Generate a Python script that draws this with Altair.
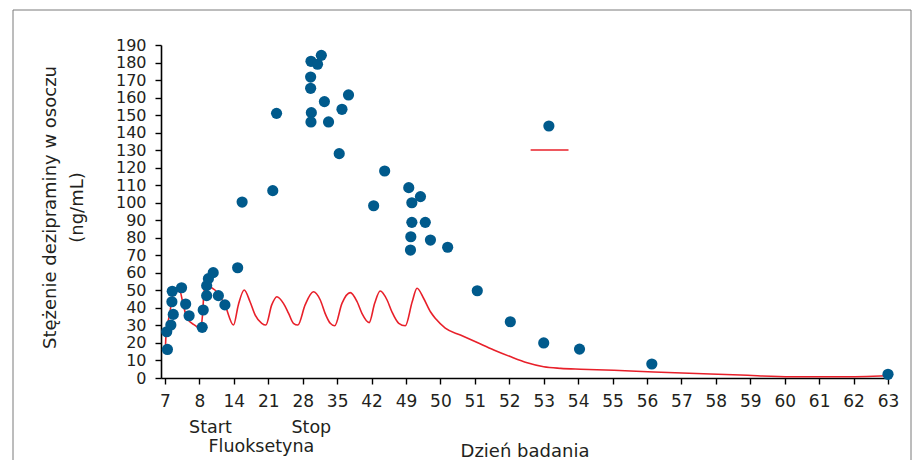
import altair as alt
import pandas as pd

# x axis: equally spaced tick slots (index) with irregular day labels
tick_labels = ["7", "8", "14", "21", "28", "35", "42", "49", "50", "51", "52", "53",
               "54", "55", "56", "57", "58", "59", "60", "61", "62", "63"]
y_ticks = list(range(0, 200, 10))

# measured desipramine concentrations (x in tick-slot units)
pt_pos = [0.07, 0.05, 0.17, 0.24, 0.20, 0.21, 0.48, 0.60, 0.70, 1.08, 1.11, 1.21, 1.21,
          1.26, 1.40, 1.55, 1.74, 2.11, 2.24, 3.24, 3.13, 4.24, 4.54, 4.43, 4.23, 4.23,
          4.63, 5.33, 5.14, 4.25, 4.24, 4.75, 5.06, 6.38, 6.06, 7.08, 7.42, 7.17, 7.17,
          7.56, 7.14, 7.71, 7.13, 8.21, 9.07, 10.03, 11.0, 12.04, 14.14, 21.0, 11.15]
pt_val = [16.3, 26.4, 30.2, 36.3, 43.5, 49.5, 51.5, 42.2, 35.5, 28.9, 38.8, 47.0, 52.7,
          56.7, 60.1, 47.0, 41.7, 62.9, 100.4, 151.0, 106.9, 180.7, 184.1, 179.0, 171.7, 165.3,
          157.7, 161.5, 153.3, 151.4, 146.1, 146.1, 128.0, 118.1, 98.3, 108.6, 103.5, 100.0, 88.8,
          88.8, 80.6, 78.7, 73.0, 74.6, 49.8, 32.1, 20.0, 16.5, 8.0, 2.1, 143.8]

# model curve (red)
line_pos = [0.01, 0.03, 0.14, 0.22, 0.32, 0.44, 0.52, 0.64, 0.86, 1.03, 1.09, 1.14, 1.25,
            1.45, 1.74, 1.99, 2.13, 2.30, 2.47, 2.62, 2.81, 2.93, 3.10, 3.25, 3.44, 3.59,
            3.73, 3.86, 4.07, 4.31, 4.51, 4.65, 4.80, 4.93, 5.14, 5.38, 5.58, 5.72, 5.93,
            6.09, 6.25, 6.45, 6.59, 6.79, 6.98, 7.18, 7.32, 7.51, 7.71, 7.87, 8.14, 8.58,
            9.07, 9.55, 10.03, 10.52, 11.0, 11.49, 12.07, 13.04, 14.2, 16.72, 18.18, 19.63, 21.0]
line_val = [16.5, 24.5, 36.9, 46.8, 49.6, 49.1, 42.6, 34.2, 30.2, 28.4, 35.9, 50.2, 52.0,
            50.2, 41.7, 30.2, 41.7, 50.2, 43.5, 35.9, 31.2, 30.2, 41.7, 46.4, 42.6, 36.9,
            31.2, 30.2, 41.7, 49.2, 44.5, 36.9, 31.2, 29.8, 42.6, 48.7, 43.5, 36.9, 31.6,
            42.6, 49.6, 44.5, 37.8, 31.2, 29.8, 43.5, 51.2, 45.5, 37.8, 33.6, 28.4, 24.5,
            20.2, 16.0, 12.2, 8.7, 6.4, 5.5, 5.0, 4.4, 3.4, 1.7, 0.7, 0.7, 1.3]

# short red legend-like segment
seg_pos = [10.62]
seg_pos2 = [11.72]
seg_val = [130.1]

# annotations under the axis
ann_text_row1 = ["Start", "Stop"]
ann_pos_row1 = [1.32, 4.25]
ann_text_row2 = ["Fluoksetyna"]
ann_pos_row2 = [2.80]

FONT = "DejaVu Sans"
TXT = "#231f20"
BLUE = "#005a8c"
RED = "#e8202a"

label_arr = "[" + ",".join("'" + t + "'" for t in tick_labels) + "]"

xscale = alt.Scale(domain=[-0.1163, 21.0], nice=False, zero=False)
yscale = alt.Scale(domain=[0, 190], nice=False)

xaxis = alt.Axis(values=list(range(len(tick_labels))), labelExpr=label_arr + "[datum.value]",
                 title="Dzień badania", titleX=363.5, titleY=73, titleBaseline="middle",
                 titleFontSize=18, labelFontSize=17,
                 labelPadding=9, labelOverlap=False, labelFlush=False, grid=False)
yaxis = alt.Axis(values=y_ticks, title=["Stężenie dezipraminy w osoczu", "(ng/mL)"],
                 titleAngle=270, titleX=-111, titleY=162, titleBaseline="middle",
                 titleAlign="center", titleLineHeight=27, titleFontSize=18,
                 labelFontSize=16, labelPadding=9,
                 labelOverlap=False, labelFlush=False, grid=False)

pts = pd.DataFrame({"pos": pt_pos, "val": pt_val})
ln = pd.DataFrame({"pos": line_pos, "val": line_val})
seg = pd.DataFrame({"pos": seg_pos, "pos2": seg_pos2, "val": seg_val})
a1 = pd.DataFrame({"pos": ann_pos_row1, "t": ann_text_row1})
a2 = pd.DataFrame({"pos": ann_pos_row2, "t": ann_text_row2})

X = alt.X("pos:Q", scale=xscale, axis=xaxis)
Y = alt.Y("val:Q", scale=yscale, axis=yaxis)

line = alt.Chart(ln).mark_line(color=RED, strokeWidth=1.6, interpolate="monotone").encode(x=X, y=Y)
segm = alt.Chart(seg).mark_rule(color=RED, strokeWidth=1.6).encode(x=X, x2="pos2:Q", y=Y)
points = alt.Chart(pts).mark_circle(color=BLUE, size=125, opacity=1).encode(x=X, y=Y)

t1 = alt.Chart(a1).mark_text(font=FONT, fontSize=17.5, color=TXT, baseline="middle").encode(
    x=X, y=alt.value(383), text="t:N")
t2 = alt.Chart(a2).mark_text(font=FONT, fontSize=17.5, color=TXT, baseline="middle").encode(
    x=X, y=alt.value(402), text="t:N")

frame_l = alt.Chart(seg).mark_rule(color="#7a7a7a", strokeWidth=1).encode(
    x=alt.value(-148), y=alt.value(-35), y2=alt.value(420))
frame_t = alt.Chart(seg).mark_rule(color="#7a7a7a", strokeWidth=1).encode(
    x=alt.value(-148), x2=alt.value(750), y=alt.value(-35))
frame_r = alt.Chart(seg).mark_rule(color="#7a7a7a", strokeWidth=1).encode(
    x=alt.value(750), y=alt.value(-35), y2=alt.value(420))

chart = alt.layer(frame_l, frame_t, frame_r, line, segm, points, t1, t2).properties(
    width=727, height=333,
    padding={"left": 153, "top": 37, "right": 24, "bottom": 82},
    autosize=alt.AutoSizeParams(type="none"),
).configure_view(stroke=None).configure_axis(
    labelFont=FONT, titleFont=FONT,
    titleFontWeight="normal", labelColor=TXT, titleColor=TXT,
    domainColor="black", tickColor="black", domainWidth=1.6, tickWidth=1.4, tickSize=6,
)

chart.save("out.html", embed_options={"renderer": "svg", "actions": False})
